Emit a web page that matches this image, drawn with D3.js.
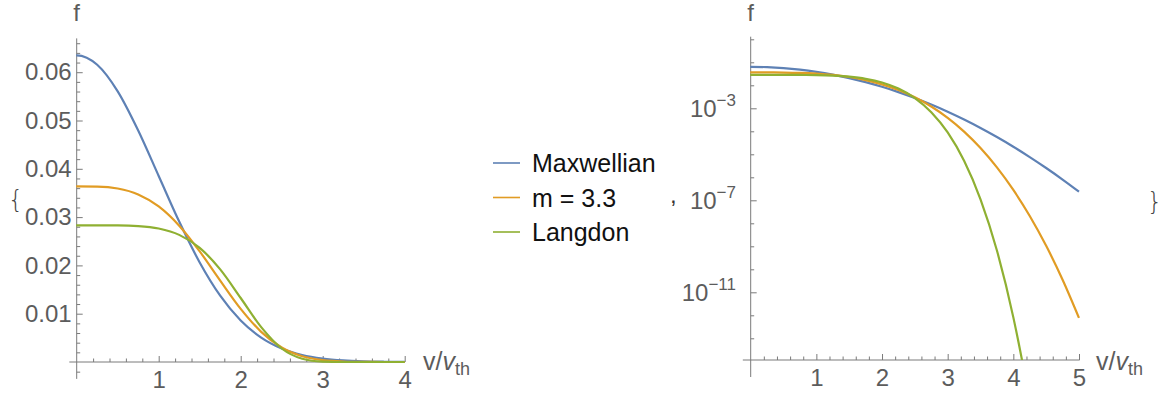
<!DOCTYPE html>
<html>
<head>
<meta charset="utf-8">
<script src="https://cdn.jsdelivr.net/npm/d3@7"></script>
<style>
  html, body { margin: 0; padding: 0; background: #fff; }
  svg { display: block; font-family: "Liberation Sans", Arial, sans-serif; }
</style>
</head>
<body>
<svg id="chart" width="1164" height="394"></svg>
<script>
// Normalised speed samples v / v_th
const speeds = [0, 0.25, 0.5, 0.75, 1, 1.25, 1.5, 1.75, 2, 2.25, 2.5, 2.75, 3, 3.25, 3.5, 3.75, 4, 4.25, 4.5, 4.75, 5];

// Distribution function f at each speed
const maxwellian = [0.063494, 0.061541, 0.056033, 0.047928, 0.038511, 0.029070, 0.020614, 0.013731,
  0.0085929, 0.0050516, 0.0027897, 0.0014473, 7.0535e-4, 3.2294e-4, 1.3889e-4, 5.6118e-5,
  2.1300e-5, 7.5947e-6, 2.5439e-6, 8.0047e-7, 2.3663e-7];
const superGaussian = [0.036367, 0.036322, 0.035922, 0.034699, 0.032212, 0.028227, 0.022900, 0.016852,
  0.011007, 0.0062400, 0.0029982, 0.0011915, 3.8236e-4, 9.649e-5, 1.8646e-5, 2.6885e-6,
  2.8116e-7, 2.0740e-8, 1.0487e-9, 3.531e-11, 7.684e-13];
const langdon = [0.028294, 0.028293, 0.028273, 0.028135, 0.027631, 0.026320, 0.023633, 0.019175,
  0.013252, 0.0072122, 0.0027948, 6.8009e-4, 8.912e-5, 5.2331e-6, 1.1086e-7, 6.570e-10,
  8.132e-13, 1.505e-16, 2.25e-21, 3.6e-27, 1.9e-34];

const seriesNames = ["Maxwellian", "m = 3.3", "Langdon"];
const seriesColors = ["#5E81B5", "#E19C24", "#8FB032"];

// Tick values
const linXTicks = [1, 2, 3, 4];
const linYTicks = [0.01, 0.02, 0.03, 0.04, 0.05, 0.06];
const logXTicks = [1, 2, 3, 4, 5];
const logYExponents = [-3, -7, -11];

const svg = d3.select("#chart");
const axisColor = "#7a7a7a";
const labelColor = "#5c5c5c";
const tickFont = 24;

const series = [maxwellian, superGaussian, langdon];

// f is even in v: prepend the mirrored first sample so the curve leaves v = 0 flat
function withMirror(values, count) {
  const pts = values.slice(0, count).map((f, i) => [speeds[i], f]);
  return [[-speeds[1], values[1]], ...pts];
}

function axisLine(g, x1, y1, x2, y2) {
  g.append("line").attr("x1", x1).attr("y1", y1).attr("x2", x2).attr("y2", y2)
    .attr("stroke", axisColor).attr("stroke-width", 1);
}

function styleAxis(g) {
  g.select(".domain").remove();
  g.selectAll(".tick line").attr("stroke", axisColor);
  g.selectAll(".tick text").attr("fill", labelColor)
    .attr("font-size", tickFont).attr("font-family", "Liberation Sans, Arial, sans-serif");
}

function vLabel(g, x, y) {
  const t = g.append("text").attr("x", x).attr("y", y)
    .attr("fill", labelColor).attr("font-size", 25);
  t.append("tspan").text("v/");
  t.append("tspan").attr("font-style", "italic").text("v");
  t.append("tspan").attr("font-size", 18).attr("dy", 5).text("th");
}

// ---------- Linear panel ----------
{
  const x = d3.scaleLinear().domain([0, 4]).range([76.7, 404.7]);
  const y = d3.scaleLinear().domain([0, 0.067]).range([362, 38.4]);
  const g = svg.append("g");

  g.append("clipPath").attr("id", "clipLin").append("rect")
    .attr("x", x(0) - 0.5).attr("y", y(0.067)).attr("width", x(4) - x(0) + 1.5)
    .attr("height", y(-0.0033) - y(0.067));

  // minor ticks
  const xMinor = d3.range(1, 21).map(i => i * 0.2).filter(v => Math.abs(v - Math.round(v)) > 1e-6);
  const yMinor = d3.range(-1, 34).map(i => i * 0.002).filter(v => Math.abs(v * 100 - Math.round(v * 100)) > 1e-6);

  g.append("g").attr("transform", `translate(0,${y(0)})`)
    .call(d3.axisBottom(x).tickValues(xMinor).tickSize(-3.5).tickFormat(""))
    .call(styleAxis);
  g.append("g").attr("transform", `translate(0,${y(0)})`)
    .call(d3.axisBottom(x).tickValues(linXTicks).tickSize(-6).tickPadding(9).tickFormat(d3.format("d")))
    .call(styleAxis);
  g.append("g").attr("transform", `translate(${x(0)},0)`)
    .call(d3.axisLeft(y).tickValues(yMinor).tickSize(-3.5).tickFormat(""))
    .call(styleAxis);
  g.append("g").attr("transform", `translate(${x(0)},0)`)
    .call(d3.axisLeft(y).tickValues(linYTicks).tickSize(-6).tickPadding(5).tickFormat(d3.format(".2f")))
    .call(styleAxis);

  axisLine(g, x(-0.09), y(0), x(4), y(0));
  axisLine(g, x(0), y(0.067), x(0), y(-0.0035));

  const line = d3.line().x(d => x(d[0])).y(d => y(d[1])).curve(d3.curveMonotoneX);
  const n = speeds.filter(v => v <= 4).length;
  g.append("g").attr("clip-path", "url(#clipLin)")
    .selectAll("path").data(series).join("path")
    .attr("d", d => line(withMirror(d, n)))
    .attr("fill", "none").attr("stroke", (d, i) => seriesColors[i]).attr("stroke-width", 2.2);

  g.append("text").attr("x", x(0)).attr("y", 21).attr("text-anchor", "middle")
    .attr("fill", labelColor).attr("font-size", tickFont).text("f");
  vLabel(g, 423, 370);
}

// ---------- Logarithmic panel ----------
{
  const x = d3.scaleLinear().domain([0, 5]).range([750.7, 1079]);
  const y = d3.scaleLog().domain([Math.pow(10, -13.943), Math.pow(10, 0.113)]).range([360, 36.7]);
  const g = svg.append("g");

  g.append("clipPath").attr("id", "clipLog").append("rect")
    .attr("x", x(0) - 0.5).attr("y", 36.7).attr("width", x(5) - x(0) + 2).attr("height", 360 - 36.7);

  const xMinor = d3.range(1, 26).map(i => i * 0.2).filter(v => Math.abs(v - Math.round(v)) > 1e-6);
  const yMinor = d3.range(-13, 1).filter(p => !logYExponents.includes(p)).map(p => Math.pow(10, p));

  g.append("g").attr("transform", `translate(0,360)`)
    .call(d3.axisBottom(x).tickValues(xMinor).tickSize(-3.5).tickFormat(""))
    .call(styleAxis);
  g.append("g").attr("transform", `translate(0,360)`)
    .call(d3.axisBottom(x).tickValues(logXTicks).tickSize(-6).tickPadding(9).tickFormat(d3.format("d")))
    .call(styleAxis);
  g.append("g").attr("transform", `translate(${x(0)},0)`)
    .call(d3.axisLeft(y).tickValues(yMinor).tickSize(-3.5).tickFormat(""))
    .call(styleAxis);
  g.append("g").attr("transform", `translate(${x(0)},0)`)
    .call(d3.axisLeft(y).tickValues(logYExponents.map(p => Math.pow(10, p))).tickSize(-6).tickFormat(""))
    .call(styleAxis);

  // power-of-ten labels
  logYExponents.forEach(p => {
    const t = g.append("text").attr("x", 736).attr("y", y(Math.pow(10, p))).attr("dy", "0.36em")
      .attr("text-anchor", "end").attr("fill", labelColor).attr("font-size", tickFont);
    t.append("tspan").text("10");
    t.append("tspan").attr("font-size", 17).attr("dy", -11).text("\u2212" + Math.abs(p));
  });

  axisLine(g, x(-0.12), 360, x(5.01), 360);
  axisLine(g, x(0), 36.7, x(0), 377);

  const line = d3.line().x(d => x(d[0])).y(d => y(d[1])).curve(d3.curveMonotoneX);
  g.append("g").attr("clip-path", "url(#clipLog)")
    .selectAll("path").data(series).join("path")
    .attr("d", d => line(withMirror(d, speeds.length)))
    .attr("fill", "none").attr("stroke", (d, i) => seriesColors[i]).attr("stroke-width", 2.2);

  g.append("text").attr("x", x(0)).attr("y", 21).attr("text-anchor", "middle")
    .attr("fill", labelColor).attr("font-size", tickFont).text("f");
  vLabel(g, 1096, 370);
}

// ---------- Legend ----------
{
  const g = svg.append("g");
  const rows = [163, 197.5, 232];
  seriesNames.forEach((name, i) => {
    g.append("line").attr("x1", 493).attr("x2", 520).attr("y1", rows[i]).attr("y2", rows[i])
      .attr("stroke", seriesColors[i]).attr("stroke-width", 1.6);
    g.append("text").attr("x", 532).attr("y", rows[i]).attr("dy", "0.36em")
      .attr("font-size", 25).attr("fill", "#111").text(name);
  });
}

// ---------- List delimiters ----------
svg.append("text").attr("x", 8).attr("y", 208).attr("font-size", 24)
  .attr("fill", "#444").attr("font-family", "DejaVu Sans").attr("font-weight", 200).text("{");
svg.append("text").attr("x", 670).attr("y", 203).attr("font-size", 24)
  .attr("fill", "#333").text(",");
svg.append("text").attr("x", 1147).attr("y", 210).attr("font-size", 24)
  .attr("fill", "#444").attr("font-family", "DejaVu Sans").attr("font-weight", 200).text("}");
</script>
</body>
</html>
